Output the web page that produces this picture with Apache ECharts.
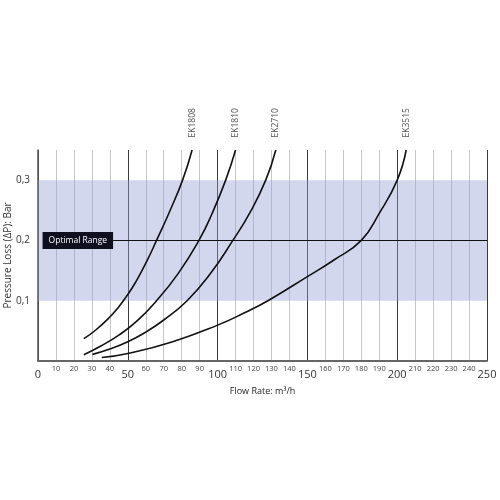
<!DOCTYPE html>
<html>
<head>
<meta charset="utf-8">
<script src="https://cdn.jsdelivr.net/npm/echarts@6/dist/echarts.min.js"></script>
<style>html,body{margin:0;padding:0;background:#fff}#c{width:500px;height:500px}</style>
</head>
<body>
<div id="c"></div>
<script>
// Curve data: [flow m³/h, pressure loss bar]
const ek1808 = [[25.5,0.037],[32,0.051],[40,0.073],[45,0.09],[49,0.106],[53,0.124],[57,0.145],[61,0.168],[66,0.2],[73,0.246],[80.5,0.3],[85.8,0.35]];
const ek1810 = [[25.5,0.0105],[35,0.025],[45,0.043],[55,0.066],[66,0.1],[78,0.145],[89.6,0.2],[97,0.245],[104.5,0.3],[110,0.35]];
const ek2710 = [[30.3,0.011],[40,0.02],[50,0.032],[60,0.048],[70,0.068],[83,0.1],[96,0.145],[108.5,0.2],[118,0.246],[126.8,0.3],[132.4,0.35]];
const ek3515 = [[35.5,0.0057],[50,0.0125],[75,0.032],[100,0.0595],[115,0.08],[128,0.1],[150,0.14],[165,0.168],[180,0.2],[190,0.245],[200,0.3],[205,0.35]];
const seriesNames = ['EK1808','EK1810','EK2710','EK3515'];
const seriesData = [ek1808, ek1810, ek2710, ek3515];
const yTickLabels = ['0,1','0,2','0,3'];
const yTickValues = [0.1,0.2,0.3];
const optimalBand = [0.1, 0.3];
const optimalLine = 0.2;
const optimalLineStart = 41.8;
const optimalLabel = 'Optimal Range';
const xMax = 250, yMax = 0.35;

const chart = echarts.init(document.getElementById('c'), null, {renderer:'canvas'});
const font = 'Open Sans';
const curveSeries = seriesData.map((d,i)=>({
  type:'line', name:seriesNames[i], data:d, smooth:0.5, showSymbol:false,
  xAxisIndex:0, yAxisIndex:0,
  lineStyle:{color:'#111', width:1.6}, z:5, silent:true
}));
const labelPoints = seriesData.map((d,i)=>[d[d.length-1][0], d[d.length-1][1], seriesNames[i]]);

chart.setOption({
  animation:false,
  textStyle:{fontFamily:font},
  grid:{left:38, right:13, top:150, bottom:139, containLabel:false, outerBoundsMode:'none'},
  xAxis:[
    {type:'value', min:0, max:xMax, interval:10, position:'bottom',
     axisLine:{show:true, onZero:false, lineStyle:{color:'#666', width:2}},
     axisTick:{show:false},
     axisLabel:{fontSize:7.5, color:'#444', margin:4, fontFamily:font,
       formatter:v=> (v%50===0)?'':String(v)},
     splitLine:{show:true, lineStyle:{color:['#3a3a3a','#c6c6c6','#c6c6c6','#c6c6c6','#c6c6c6'], width:1}},
     name:'Flow Rate: m³/h', nameLocation:'middle', nameGap:26, nameMoveOverlap:false,
     nameTextStyle:{fontSize:9, color:'#222', fontFamily:font}
    },
    {type:'value', min:0, max:xMax, interval:50, position:'bottom',
     axisLine:{show:false}, axisTick:{show:false}, splitLine:{show:false},
     axisLabel:{fontSize:11, color:'#333', margin:8, fontFamily:font}
    }
  ],
  yAxis:{type:'value', min:0, max:yMax, interval:0.1,
    axisLine:{show:true, lineStyle:{color:'#555', width:1.5}},
    axisTick:{show:false}, splitLine:{show:false},
    axisLabel:{fontSize:10, color:'#333', margin:8, fontFamily:font,
      formatter:v=>{const k=yTickValues.findIndex(t=>Math.abs(t-v)<1e-6);return k>=0?yTickLabels[k]:'';}},
    name:'Pressure Loss (ΔP): Bar', nameLocation:'middle', nameRotate:90, nameGap:25, nameMoveOverlap:false,
    nameTextStyle:{fontSize:10, color:'#333', fontFamily:font}
  },
  series:[
    {type:'line', data:[], xAxisIndex:0, yAxisIndex:0, silent:true,
     markArea:{silent:true, itemStyle:{color:'rgba(150,160,212,0.42)'},
       data:[[{yAxis:optimalBand[0]},{yAxis:optimalBand[1]}]]},
     markLine:{silent:true, symbol:['none','none'],
       lineStyle:{color:'#111', width:1.2, type:'solid'},
       label:{show:true, position:'start', formatter:optimalLabel, color:'#fff',
         backgroundColor:'#0e1020', padding:[4,6,4,6], fontSize:8.5, distance:0, fontFamily:font},
       data:[[{coord:[optimalLineStart,optimalLine]},{coord:[xMax,optimalLine]}]]},
     z:3
    },
    ...curveSeries,
    {type:'scatter', data:labelPoints, symbolSize:1, itemStyle:{color:'rgba(0,0,0,0)'}, silent:true,
     label:{show:true, position:'top', rotate:90, align:'left', verticalAlign:'middle', distance:12,
       formatter:p=>p.data[2], fontSize:8.5, color:'#222', fontFamily:font}, z:6}
  ]
});
</script>
</body>
</html>
